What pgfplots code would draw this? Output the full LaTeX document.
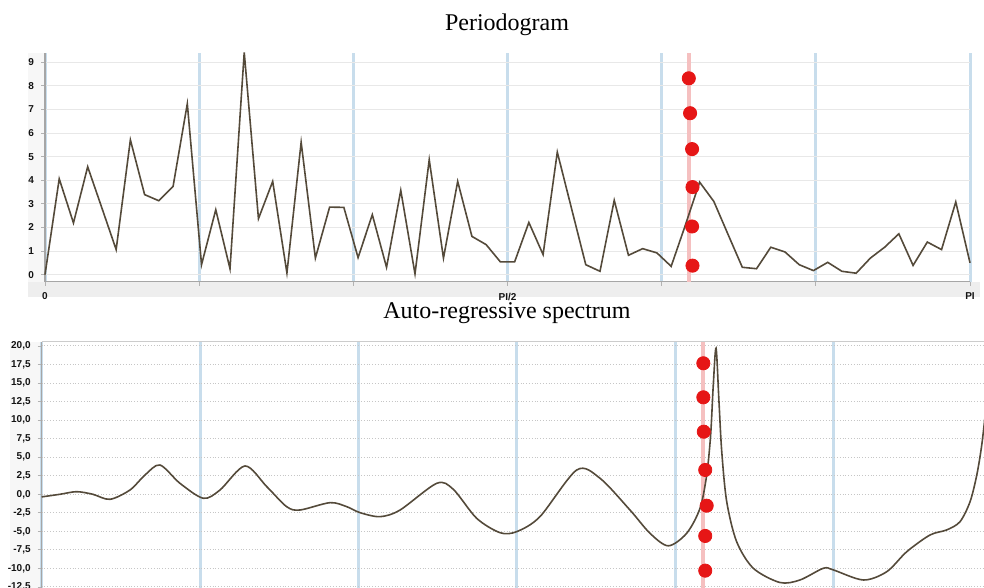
\documentclass[border=0pt]{standalone}
\usepackage{fontspec}
\setmainfont{Liberation Serif}
\setsansfont{Liberation Sans}
\usepackage{pgfplots}
\pgfplotsset{compat=1.18}

\definecolor{curve}{RGB}{84,74,58}
\definecolor{blueg}{RGB}{200,221,236}
\definecolor{pinkl}{RGB}{245,192,192}
\definecolor{dotred}{RGB}{230,22,22}
\definecolor{band}{RGB}{238,238,238}

\pgfplotsset{
  common/.style={
    scale only axis, anchor=south west,
    xmin=0, xmax=65,
    axis lines*=left,
    axis line style={gray!70, line width=0.6pt},
    xtick={0,10.8333,21.6667,32.5,43.3333,54.1667,65},
    xmajorgrids, ymajorgrids,
    x grid style={blueg, line width=1.5pt},
    tick style={gray!60, line width=0.4pt},
    major tick length=2pt,
    tick align=outside,
    ticklabel style={font=\sffamily\bfseries\fontsize{5}{6}\selectfont, text=gray!15!black},
    /pgf/number format/assume math mode=true,
  },
}

\begin{document}
\begin{tikzpicture}
% background bands
\fill[band] (14pt,145.5pt) rectangle (490pt,153.15pt);
\fill[gray!6] (14pt,153.15pt) rectangle (22.5pt,267.35pt);
\fill[gray!6] (5pt,0pt) rectangle (20.85pt,123.15pt);

\node[font=\fontsize{12}{14}\selectfont] at (253.5pt,281.5pt) {Periodogram};
\node[font=\fontsize{12}{14}\selectfont] at (253.5pt,137.5pt) {Auto-regressive spectrum};

% Periodogram
\begin{axis}[common,
  at={(22.5pt,153.15pt)}, width=462.5pt, height=114.2pt,
  ymin=-0.3, ymax=9.38,
  ytick={0,...,9},
  xticklabels={0,,,PI/2,,,PI},
  y grid style={gray!18, line width=0.5pt},
  clip=false,
]
\addplot[pinkl, line width=2pt] coordinates {(45.23,-0.3) (45.23,9.38)};
\addplot[curve, line width=0.8pt, mark=none] coordinates {
(0,0) (1,4.06) (2,2.19) (3,4.57) (4,2.82) (5,1.06) (6,5.71) (7,3.39) (8,3.13) (9,3.74)
(10,7.24) (11,0.42) (12,2.75) (13,0.25) (14,9.42) (15,2.37) (16,3.95) (17,0.07) (18,5.61) (19,0.70)
(20,2.86) (21,2.85) (22,0.72) (23,2.54) (24,0.31) (25,3.57) (26,0.03) (27,4.87) (28,0.70) (29,3.95)
(30,1.62) (31,1.27) (32,0.54) (33,0.54) (34,2.21) (35,0.85) (36,5.19) (37,2.80) (38,0.42) (39,0.14)
(40,3.15) (41,0.82) (42,1.10) (43,0.92) (44,0.35) (45,2.10) (46,3.92) (47,3.10) (48,1.70) (49,0.31)
(50,0.25) (51,1.16) (52,0.96) (53,0.42) (54,0.17) (55,0.52) (56,0.14) (57,0.06) (58,0.70) (59,1.16)
(60,1.73) (61,0.39) (62,1.38) (63,1.06) (64,3.08) (65,0.50)
};
\addplot[only marks, mark=*, mark size=3.3pt, dotred, mark options={draw=dotred, fill=dotred}] coordinates {
(45.24,8.32) (45.33,6.84) (45.47,5.32) (45.5,3.71) (45.47,2.04) (45.5,0.38)
};
\end{axis}

% Auto-regressive spectrum
\begin{axis}[common,
  at={(20.85pt,-8.75pt)}, width=475pt, height=131.9pt,
  ymin=-15, ymax=20.58,
  ytick={-12.5,-10,-7.5,-5,-2.5,0,2.5,5,7.5,10,12.5,15,17.5,20},
  xticklabels={},
  y grid style={gray!45, densely dotted, line width=0.5pt},
  yticklabel style={/pgf/number format/.cd, fixed, fixed zerofill, precision=1, use comma},
]
\addplot[pinkl, line width=2pt] coordinates {(45.23,-15) (45.23,20.58)};
\addplot[curve, line width=0.8pt, mark=none, smooth] coordinates {
(0,-0.35) (1.25,0.0) (2.39,0.35) (3.5,0.0) (4.67,-0.68) (6.04,0.58) (7.07,2.6) (8.09,3.95)
(9.46,1.48) (11.06,-0.54) (12.2,0.58) (13.91,3.82) (15.4,1.03) (16.76,-1.67) (17.67,-2.12)
(19.73,-1.13) (20.87,-1.67) (21.78,-2.48) (23.15,-3.02) (24.52,-2.12) (27.03,1.48) (28.16,0.67)
(29.76,-3.24) (31.36,-5.18) (32.5,-5.04) (34.09,-3.02) (36.61,3.28) (38.2,2.16) (40.25,-2.12)
(41.62,-5.26) (42.87,-6.95) (44.13,-5.26) (45.04,-1.9) (45.5,2.6) (45.77,8.0) (45.95,14.7)
(46.14,19.7) (46.34,12.5) (46.53,5.75) (46.87,-1.0) (47.55,-6.4) (48.69,-9.98) (50.51,-11.9)
(51.88,-11.56) (53.48,-9.98) (54.16,-10.2) (56.22,-11.56) (57.82,-10.44) (59.19,-7.74)
(60.78,-5.49) (61.92,-4.81) (62.83,-3.7) (63.52,-1.0) (63.98,2.6) (64.32,6.65) (64.6,11.5)
};
\addplot[only marks, mark=*, mark size=3.3pt, dotred, mark options={draw=dotred, fill=dotred}] coordinates {
(45.27,17.67) (45.27,13.08) (45.3,8.44) (45.4,3.28) (45.5,-1.54) (45.4,-5.62) (45.4,-10.3)
};
\draw[gray!40, line width=0.8pt] (rel axis cs:0,1) -- (rel axis cs:1,1);
\end{axis}

\pgfresetboundingbox
\path[use as bounding box] (0pt,0pt) rectangle (492pt,294pt);
\end{tikzpicture}
\end{document}
